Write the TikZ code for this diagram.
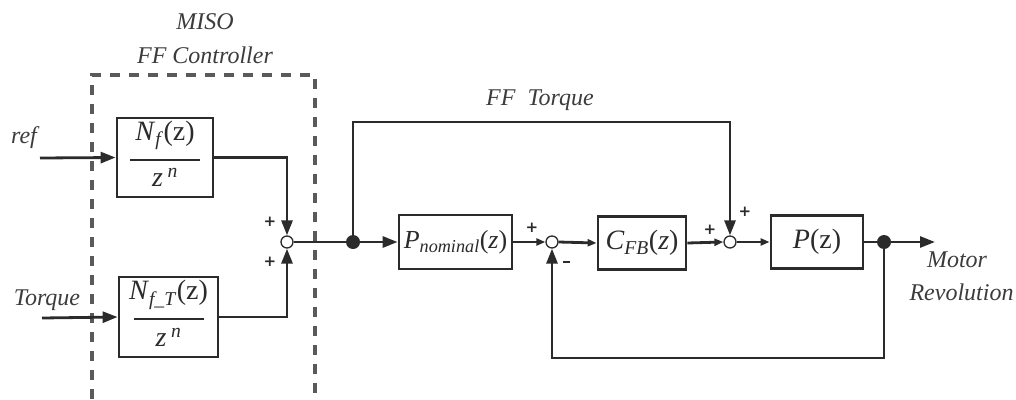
\documentclass[tikz,border=0pt]{standalone}
\usepackage{fontspec}
\setmainfont{Liberation Serif}
\newfontfamily\signfont{DejaVu Sans}
\usetikzlibrary{arrows.meta,positioning}
\definecolor{ink}{HTML}{2B2B2B}
\definecolor{txt}{HTML}{3C3C3C}
\definecolor{dashgray}{HTML}{5A5A5A}
\newcommand{\fracblk}[2]{\begin{tabular}{@{}c@{}}#1\\[-10pt]\rule{70pt}{2.2pt}\\[-4pt]#2\end{tabular}}
\begin{document}
\begin{tikzpicture}[x=1pt,y=-1pt,
  sig/.style={draw=ink, line width=2.8pt},
  big/.style={-{Triangle[length=15pt,width=11pt]}},
  small/.style={-{Triangle[length=9pt,width=7pt]}},
  blk/.style={draw=ink, line width=2.8pt, fill=white, inner sep=0pt,
    font=\fontsize{28}{30}\selectfont, text=ink},
  sumpt/.style={circle, draw=ink, line width=1.3pt, fill=white, minimum size=12pt, inner sep=0pt},
  dot/.style={circle, fill=ink, minimum size=14pt, inner sep=0pt},
  lbl/.style={font=\fontsize{24}{26}\selectfont\itshape, text=txt},
  sgn/.style={font=\signfont\bfseries\fontsize{15}{15}\selectfont, text=ink, inner sep=0pt}]
\useasboundingbox (0,0) rectangle (1016,399);
\draw[dashgray, line width=3.2pt, dash pattern=on 10pt off 9pt] (92,399) |- (315,75) -- (315,399);
\node[lbl] (miso) at (205,22) {MISO};
\node[lbl] (ffc) at (205,55) {FF Controller};
\node[blk, minimum width=96pt, minimum height=79pt] (nf) at (165,157.5)
  {\fracblk{\textit{N}\textsubscript{\textit{f}}(z)}{\textit{z}\,\textsuperscript{\textit{n}}}};
\node[blk, minimum width=99pt, minimum height=80pt] (nft) at (168.5,317)
  {\fracblk{\textit{N}\textsubscript{\textit{f\_T}}(z)}{\textit{z}\,\textsuperscript{\textit{n}}}};
\node[blk, minimum width=113pt, minimum height=54pt, font=\fontsize{26}{28}\selectfont] (pnom) at (455.5,242)
  {\textit{P}\textsubscript{\textit{nominal}}(\textit{z})};
\node[blk, minimum width=88pt, minimum height=53pt] (cfb) at (642,243)
  {\textit{C}\textsubscript{\textit{FB}}(\textit{z})};
\node[blk, minimum width=92pt, minimum height=53pt] (pz) at (817,242)
  {\textit{P}(z)};
\node[sumpt] (s1) at (287,242) {};
\node[sumpt] (s2) at (552,242) {};
\node[sumpt] (s3) at (730,242) {};
\coordinate (refin) at (40,158);
\coordinate (torin) at (42,318);
\coordinate (fftop) at (540,122);
\coordinate (fbbot) at (700,358);
\coordinate (out) at (935,242);
\node[lbl] (reflbl) at (24,138) {ref};
\node[lbl] (torlbl) at (47,300) {Torque};
\node[lbl] (fflbl) at (540,100) {FF\ \ Torque};
\node[lbl] (motlbl) at (957,260) {Motor};
\node[lbl, anchor=west] (revlbl) at (906,292) {Revolution};
\draw[sig, big] (refin) -- (nf.west);
\draw[sig, big] (torin) -- (nft.west);
\draw[sig, big] (nf.east) -| (s1.north);
\draw[sig, big] (nft.east) -| (s1.south);
\draw[sig] (s1.east) -- (353,242) coordinate (j1);
\draw[sig, big] (j1) -- (pnom.west);
\draw[sig, big] (j1) |- (fftop) -| (s3.north);
\draw[sig, small] (pnom.east) -- (s2.west);
\draw[sig, small] (s2.east) -- (cfb.west);
\draw[sig, small] (cfb.east) -- (s3.west);
\draw[sig, small] (s3.east) -- (pz.west);
\draw[sig] (pz.east) -- (884,242) coordinate (j2);
\draw[sig, big] (j2) -- (out);
\draw[sig, big] (j2) |- (fbbot) -| (s2.south);
\node[dot] (d1) at (j1) {};
\node[dot] (d2) at (j2) {};
\node[sgn] (p1) at (270,222) {+};
\node[sgn] (p2) at (270,262) {+};
\node[sgn] (p3) at (532,228) {+};
\node[sgn] (m1) at (566,262) {\rule{7pt}{2.6pt}};
\node[sgn] (p4) at (710,230) {+};
\node[sgn] (p5) at (745,212) {+};
\end{tikzpicture}
\end{document}
